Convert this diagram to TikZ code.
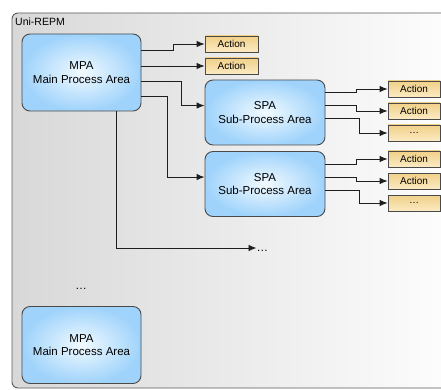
\documentclass[tikz,border=0pt]{standalone}
\usepackage{fontspec}
\setmainfont{Liberation Sans}
\usetikzlibrary{arrows.meta,calc}
\definecolor{frameL}{HTML}{D8D8D8}
\definecolor{frameB}{HTML}{5A5A5A}
\definecolor{boxB}{HTML}{4A4A4A}
\definecolor{blueOut}{HTML}{9FD3FB}
\definecolor{blueIn}{HTML}{F2FAFF}
\definecolor{actTop}{HTML}{F1D088}
\definecolor{actBot}{HTML}{FBEAC2}
\definecolor{lineC}{HTML}{1E1E1E}
\tikzset{
  areabox/.style={draw=boxB, line width=0.9pt, rounded corners=8pt,
    inner color=blueIn, outer color=blueOut, align=center,
    font=\fontsize{11.5}{13.5}\selectfont, inner sep=0pt},
  mpabox/.style={areabox, minimum width=119pt, minimum height=77pt},
  spabox/.style={areabox, minimum width=120pt, minimum height=65pt},
  actbox/.style={draw=boxB, line width=0.8pt, top color=actTop, bottom color=actBot,
    minimum width=53pt, minimum height=16pt, inner sep=0pt,
    font=\fontsize{10}{12}\selectfont},
  conn/.style={draw=lineC, line width=0.9pt, -{Latex[length=8pt,width=6.5pt]}},
  dotsnode/.style={inner sep=0pt, font=\fontsize{11.5}{13.5}\selectfont},
}
\begin{document}
\begin{tikzpicture}[x=1pt,y=-1pt]
\useasboundingbox (0,0) rectangle (441,390);
\clip (0,0) rectangle (441,390);
\fill[white] (0,0) rectangle (441,390);
% outer frame
\node[draw=frameB, line width=0.9pt, rounded corners=6pt, left color=frameL, right color=white,
      minimum width=460pt, minimum height=375pt, inner sep=0pt] (frame) at (242,200.5) {};
\node[anchor=west, inner sep=0pt, font=\fontsize{10.5}{12}\selectfont] (title) at (15,22) {Uni-REPM};

% main process areas
\node[mpabox] (mpa1) at (81.5,72.5) {MPA\\Main Process Area};
\node[mpabox] (mpa2) at (81.5,345) {MPA\\Main Process Area};
\node[dotsnode] (dots2) at (81,289) {…};

% top actions
\node[actbox] (a1) at (231.5,44) {Action};
\node[actbox] (a2) at (231.5,66) {Action};

% sub-process areas
\node[spabox] (spa1) at (265,112.5) {SPA\\Sub-Process Area};
\node[spabox] (spa2) at (265,184) {SPA\\Sub-Process Area};

% right actions
\node[actbox, minimum width=52pt] (b1) at (414,89) {Action};
\node[actbox, minimum width=52pt] (b2) at (414,111) {Action};
\node[actbox, minimum width=52pt] (b3) at (414,133) {…};
\node[actbox, minimum width=52pt] (c1) at (414,159) {Action};
\node[actbox, minimum width=52pt] (c2) at (414,181) {Action};
\node[actbox, minimum width=52pt] (c3) at (414,203) {…};

\node[dotsnode, anchor=west] (dots1) at (256.5,248) {\vphantom{A}…};

% connectors from MPA
\draw[conn] ($(mpa1.north east)+(0,17)$) -- ++(32,0) |- (a1.west);
\draw[conn] (mpa1.east |- a2.west) -- (a2.west);
\draw[conn] ($(mpa1.north east)+(0,48)$) -- ++(40,0) |- ($(spa1.north west)+(0,26)$);
\draw[conn] ($(mpa1.north east)+(0,63)$) -- ++(26,0) |- ($(spa2.north west)+(0,26)$);
\draw[conn] ($(mpa1.south west)+(95,0)$) |- (dots1.west);

% connectors from SPA1
\draw[conn] ($(spa1.north east)+(0,13)$) -- ++(31,0) |- (b1.west);
\draw[conn] ($(spa1.north east)+(0,26)$) -- ++(31,0) |- (b2.west);
\draw[conn] ($(spa1.north east)+(0,39)$) -- ++(34,0) |- (b3.west);
% connectors from SPA2
\draw[conn] ($(spa2.north east)+(0,13)$) -- ++(31,0) |- (c1.west);
\draw[conn] ($(spa2.north east)+(0,26)$) -- ++(31,0) |- (c2.west);
\draw[conn] ($(spa2.north east)+(0,39)$) -- ++(34,0) |- (c3.west);
\end{tikzpicture}
\end{document}
